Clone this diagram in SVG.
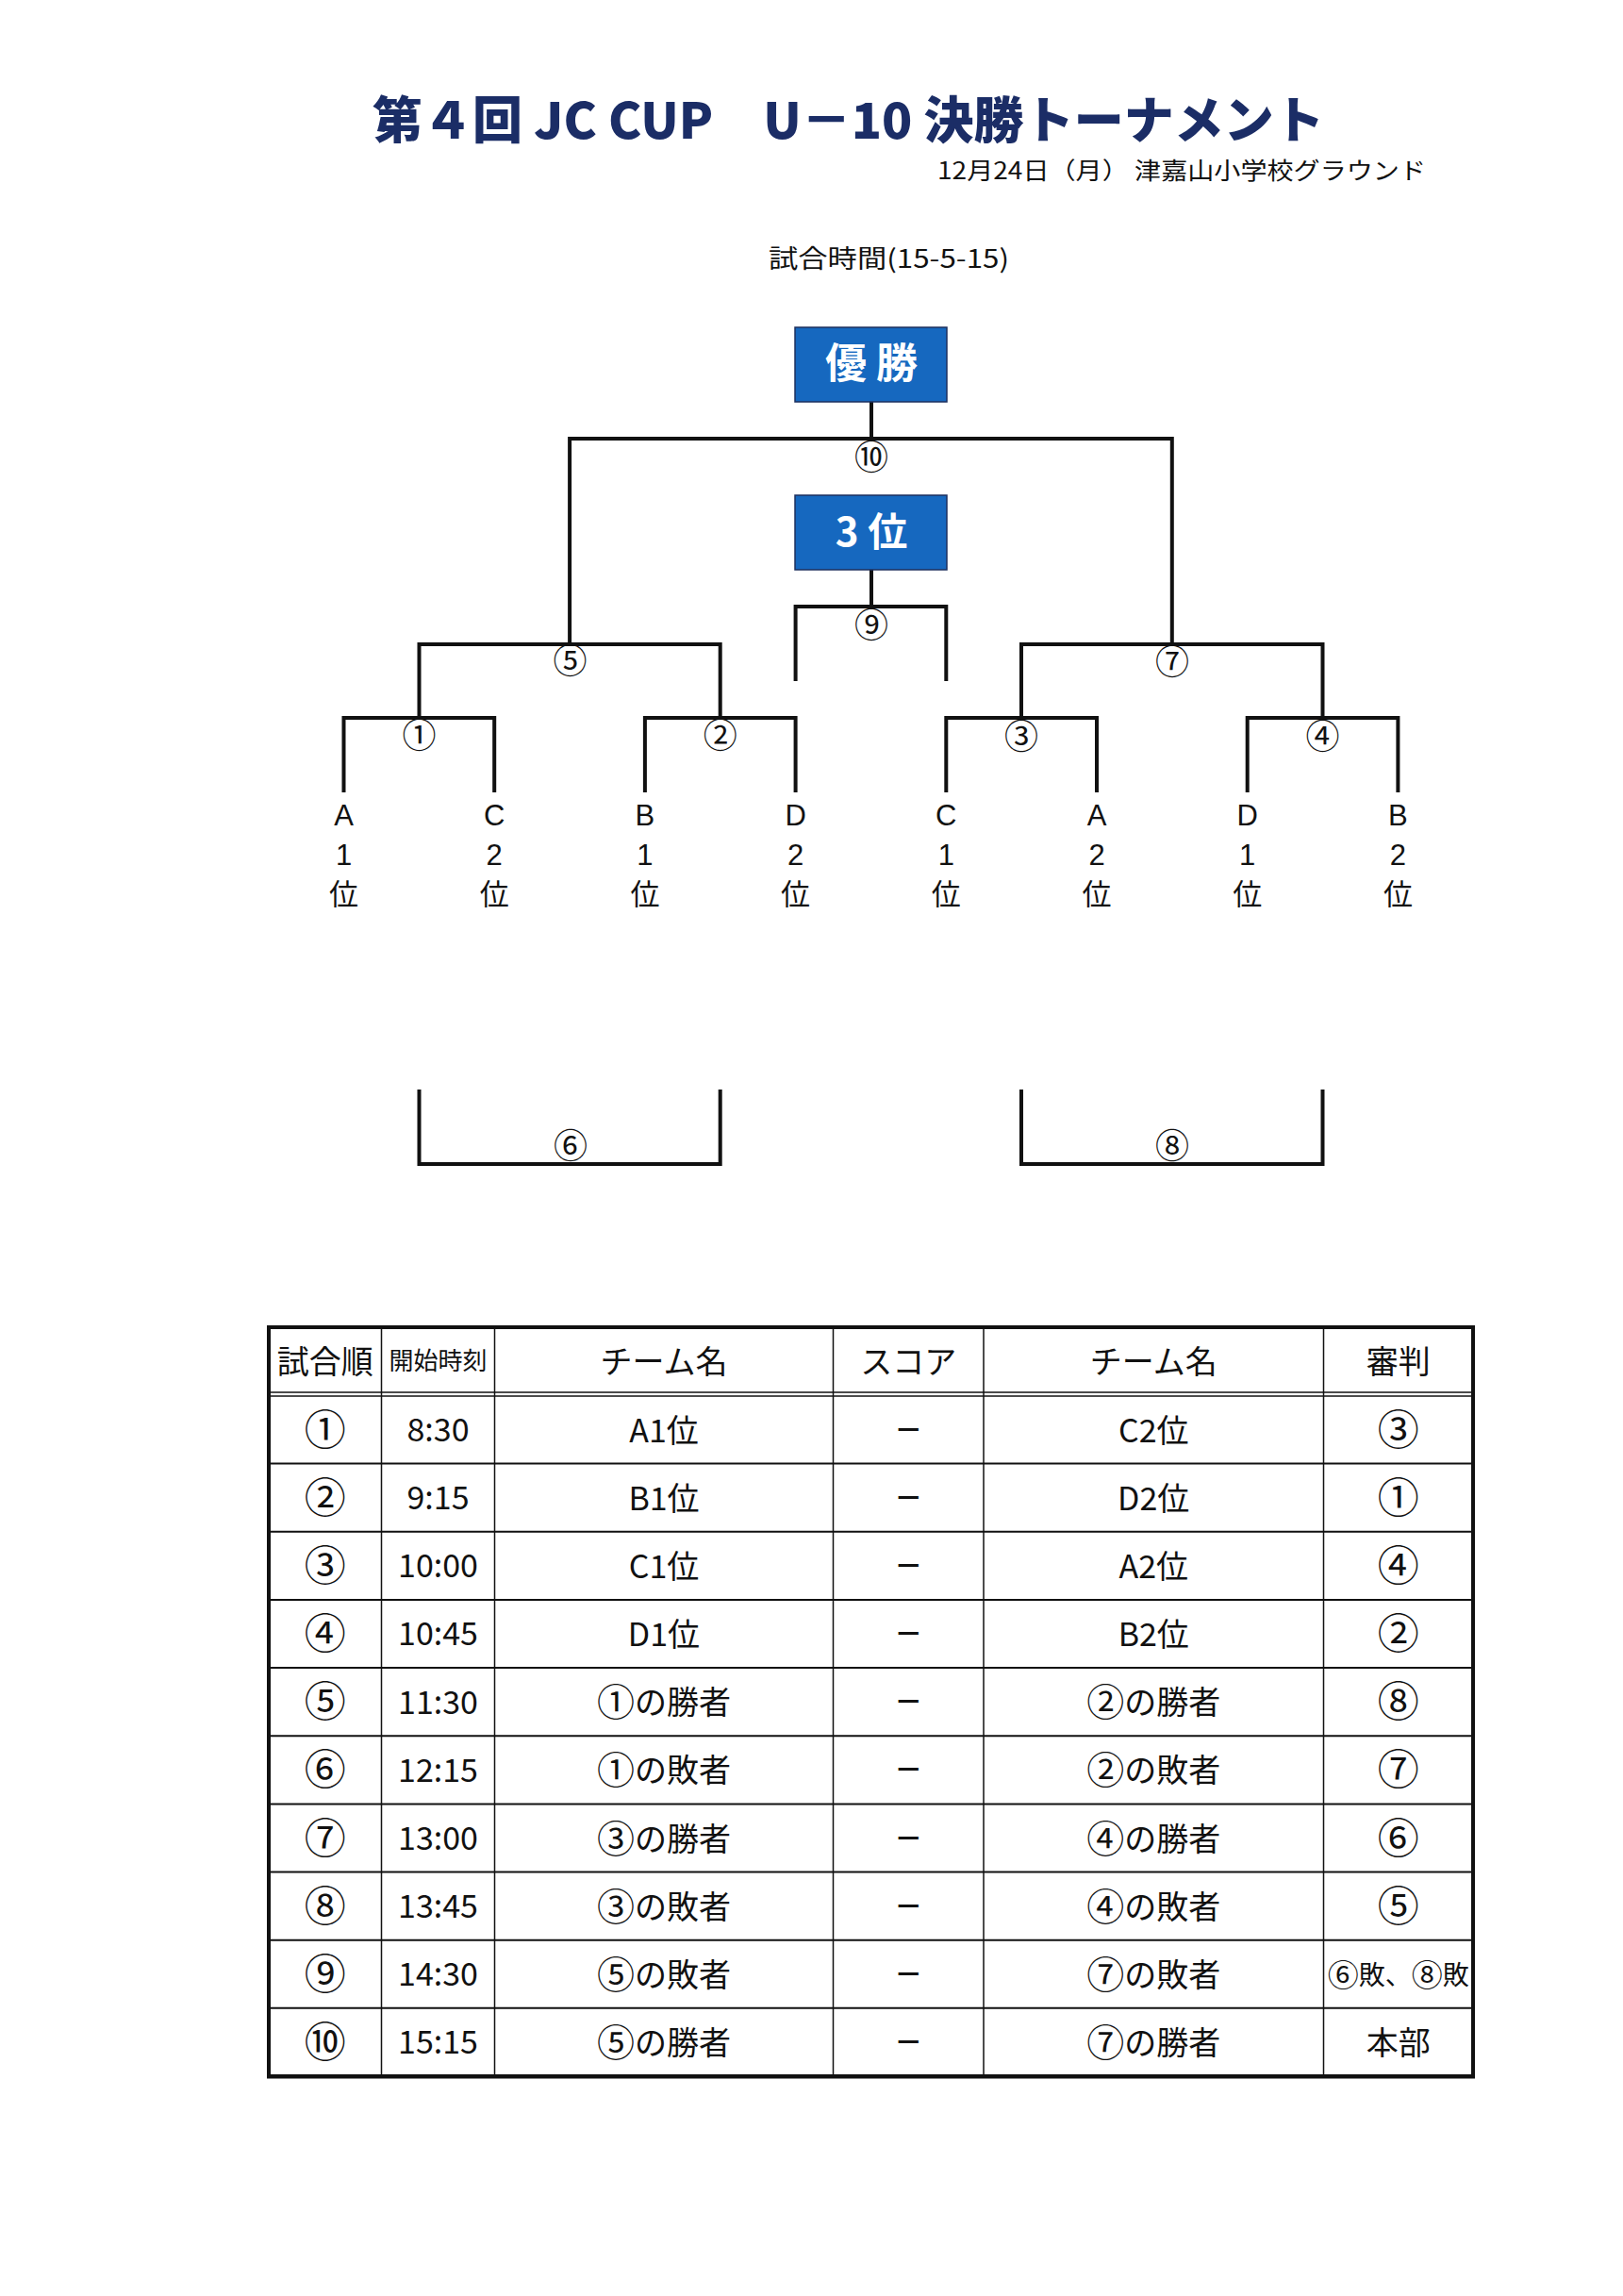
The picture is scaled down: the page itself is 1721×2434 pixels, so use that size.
<svg xmlns="http://www.w3.org/2000/svg" width="1721" height="2434" viewBox="0 0 1721 2434">
<style>
  .jp { font-family: 'Noto Sans CJK JP', 'Noto Sans', sans-serif; fill: #111; }
  .lat { font-family: 'Liberation Sans', Arial, sans-serif; fill: #111; }
  .title { font-family: 'Noto Sans CJK JP', sans-serif; font-weight: 900; font-size: 53px; fill: #1b2d66; }
  .sub { font-size: 25px; }
  .boxrect { fill: #1668bf; stroke: #1c2f5e; stroke-width: 1.5; }
  .boxtxt { font-family: 'Noto Sans CJK JP', sans-serif; font-weight: 700; fill: #fff; text-anchor: middle; }
  .br { fill: none; stroke: #111; stroke-width: 4; stroke-linejoin: miter; }
  .cn { font-size: 36px; text-anchor: middle; }
  .leafL { font-size: 31px; text-anchor: middle; }
  .leafJ { font-size: 31px; text-anchor: middle; }
  .th { font-size: 34px; text-anchor: middle; }
  .td { font-size: 34px; text-anchor: middle; }
  .tc { font-size: 44px; text-anchor: middle; }
  .ci { font-size: 40px; }
  .dash { font-size: 30px; font-weight: 700; text-anchor: middle; }
  .outer { fill: none; stroke: #111; stroke-width: 4; }
  .hl { stroke: #111; stroke-width: 2; }
  .vl { stroke: #111; stroke-width: 1.5; }
  .dl { stroke: #111; stroke-width: 1.4; }
</style>

<g id="title">
  <text class="title" x="395" y="147" textLength="1009" lengthAdjust="spacingAndGlyphs" xml:space="preserve">第４回 JC CUP　U－10 決勝トーナメント</text>
</g>
<g id="subtitle">
  <text class="jp sub" x="994" y="190" textLength="518" lengthAdjust="spacingAndGlyphs" xml:space="preserve">12月24日（月） 津嘉山小学校グラウンド</text>
</g>
<g id="match-time">
  <text class="jp" font-size="27" x="815" y="284" textLength="255" lengthAdjust="spacingAndGlyphs">試合時間(15-5-15)</text>
</g>

<g id="connectors">
  <path class="br" d="M924,426 V465"/>
  <path class="br" d="M604.1,683 V465 H1242.8 V683"/>
  <path class="br" d="M924,604 V643"/>
  <path class="br" d="M843.6,722 V643 H1003.3 V722"/>
  <path class="br" d="M444.5,761 V683 H763.7 V761"/>
  <path class="br" d="M1083,761 V683 H1402.5 V761"/>
  <path class="br" d="M364.5,840 V761 H524.2 V840"/>
  <path class="br" d="M683.9,840 V761 H843.6 V840"/>
  <path class="br" d="M1003.3,840 V761 H1163 V840"/>
  <path class="br" d="M1322.7,840 V761 H1482.4 V840"/>
  <path class="br" d="M444.5,1155 V1234 H763.7 V1155"/>
  <path class="br" d="M1083,1155 V1234 H1402.5 V1155"/>
</g>

<g id="node-champion">
  <rect class="boxrect" x="843" y="347" width="161" height="79"/>
  <text class="boxtxt" font-size="44" x="924" y="401" xml:space="preserve">優 勝</text>
</g>
<g id="node-third">
  <rect class="boxrect" x="843" y="525" width="161" height="79"/>
  <text class="boxtxt" font-size="42" x="924" y="579" xml:space="preserve">3 位</text>
</g>

<g id="match-labels">
  <text class="jp cn" x="924" y="498">⑩</text>
  <text class="jp cn" x="924" y="676">⑨</text>
  <text class="jp cn" x="604.5" y="714">⑤</text>
  <text class="jp cn" x="1243" y="715">⑦</text>
  <text class="jp cn" x="444.5" y="793">①</text>
  <text class="jp cn" x="763.7" y="793">②</text>
  <text class="jp cn" x="1083" y="794">③</text>
  <text class="jp cn" x="1402.5" y="794">④</text>
  <text class="jp cn" x="605" y="1228">⑥</text>
  <text class="jp cn" x="1243" y="1228">⑧</text>
</g>

<g id="team-A1"><text class="lat leafL" x="364.5" y="875">A</text><text class="lat leafL" x="364.5" y="917">1</text><text class="jp leafJ" x="364.5" y="959">位</text></g>
<g id="team-C2"><text class="lat leafL" x="524.2" y="875">C</text><text class="lat leafL" x="524.2" y="917">2</text><text class="jp leafJ" x="524.2" y="959">位</text></g>
<g id="team-B1"><text class="lat leafL" x="683.9" y="875">B</text><text class="lat leafL" x="683.9" y="917">1</text><text class="jp leafJ" x="683.9" y="959">位</text></g>
<g id="team-D2"><text class="lat leafL" x="843.6" y="875">D</text><text class="lat leafL" x="843.6" y="917">2</text><text class="jp leafJ" x="843.6" y="959">位</text></g>
<g id="team-C1"><text class="lat leafL" x="1003.3" y="875">C</text><text class="lat leafL" x="1003.3" y="917">1</text><text class="jp leafJ" x="1003.3" y="959">位</text></g>
<g id="team-A2"><text class="lat leafL" x="1163" y="875">A</text><text class="lat leafL" x="1163" y="917">2</text><text class="jp leafJ" x="1163" y="959">位</text></g>
<g id="team-D1"><text class="lat leafL" x="1322.7" y="875">D</text><text class="lat leafL" x="1322.7" y="917">1</text><text class="jp leafJ" x="1322.7" y="959">位</text></g>
<g id="team-B2"><text class="lat leafL" x="1482.4" y="875">B</text><text class="lat leafL" x="1482.4" y="917">2</text><text class="jp leafJ" x="1482.4" y="959">位</text></g>

<g id="schedule-table">
  <g id="table-lines">
    <line class="dl" x1="285" y1="1476" x2="1562" y2="1476"/>
    <line class="dl" x1="285" y1="1480" x2="1562" y2="1480"/>
    <line class="hl" x1="285" y1="1551.6" x2="1562" y2="1551.6"/>
    <line class="hl" x1="285" y1="1623.8" x2="1562" y2="1623.8"/>
    <line class="hl" x1="285" y1="1695.9" x2="1562" y2="1695.9"/>
    <line class="hl" x1="285" y1="1768.1" x2="1562" y2="1768.1"/>
    <line class="hl" x1="285" y1="1840.2" x2="1562" y2="1840.2"/>
    <line class="hl" x1="285" y1="1912.4" x2="1562" y2="1912.4"/>
    <line class="hl" x1="285" y1="1984.5" x2="1562" y2="1984.5"/>
    <line class="hl" x1="285" y1="2056.7" x2="1562" y2="2056.7"/>
    <line class="hl" x1="285" y1="2128.8" x2="1562" y2="2128.8"/>
    <line class="vl" x1="404.5" y1="1407" x2="404.5" y2="2201"/>
    <line class="vl" x1="524.5" y1="1407" x2="524.5" y2="2201"/>
    <line class="vl" x1="883.5" y1="1407" x2="883.5" y2="2201"/>
    <line class="vl" x1="1043" y1="1407" x2="1043" y2="2201"/>
    <line class="vl" x1="1403.5" y1="1407" x2="1403.5" y2="2201"/>
    <rect class="outer" x="285" y="1407" width="1277" height="794"/>
    <line stroke="#111" stroke-width="2" x1="283" y1="2202.5" x2="1564" y2="2202.5"/>
  </g>
  <g id="table-header">
    <text class="jp th" x="344.75" y="1455.5">試合順</text>
    <text class="jp" font-size="26" text-anchor="middle" x="464.5" y="1452">開始時刻</text>
    <text class="jp th" x="704" y="1455.5">チーム名</text>
    <text class="jp th" x="963.25" y="1455.5">スコア</text>
    <text class="jp th" x="1223.25" y="1455.5">チーム名</text>
    <text class="jp th" x="1482.75" y="1455.5">審判</text>
  </g>
  <g id="row-1">
    <text class="jp tc" x="344.75" y="1531.6">①</text><text class="jp td" x="464.5" y="1528">8:30</text><text class="jp td" x="704" y="1528.5">A1位</text><text class="jp dash" x="963.25" y="1525.6">－</text><text class="jp td" x="1223.25" y="1528.5">C2位</text><text class="jp tc" x="1482.75" y="1531.6">③</text>
  </g>
  <g id="row-2">
    <text class="jp tc" x="344.75" y="1603.7">②</text><text class="jp td" x="464.5" y="1600">9:15</text><text class="jp td" x="704" y="1600.7">B1位</text><text class="jp dash" x="963.25" y="1597.7">－</text><text class="jp td" x="1223.25" y="1600.7">D2位</text><text class="jp tc" x="1482.75" y="1603.7">①</text>
  </g>
  <g id="row-3">
    <text class="jp tc" x="344.75" y="1675.9">③</text><text class="jp td" x="464.5" y="1672.2">10:00</text><text class="jp td" x="704" y="1672.9">C1位</text><text class="jp dash" x="963.25" y="1669.9">－</text><text class="jp td" x="1223.25" y="1672.9">A2位</text><text class="jp tc" x="1482.75" y="1675.9">④</text>
  </g>
  <g id="row-4">
    <text class="jp tc" x="344.75" y="1748">④</text><text class="jp td" x="464.5" y="1744.3">10:45</text><text class="jp td" x="704" y="1745">D1位</text><text class="jp dash" x="963.25" y="1742">－</text><text class="jp td" x="1223.25" y="1745">B2位</text><text class="jp tc" x="1482.75" y="1748">②</text>
  </g>
  <g id="row-5">
    <text class="jp tc" x="344.75" y="1820.2">⑤</text><text class="jp td" x="464.5" y="1816.5">11:30</text><text class="jp td" x="704" y="1817.2"><tspan class="ci" dy="2">①</tspan><tspan dy="-2">の勝者</tspan></text><text class="jp dash" x="963.25" y="1814.2">－</text><text class="jp td" x="1223.25" y="1817.2"><tspan class="ci" dy="2">②</tspan><tspan dy="-2">の勝者</tspan></text><text class="jp tc" x="1482.75" y="1820.2">⑧</text>
  </g>
  <g id="row-6">
    <text class="jp tc" x="344.75" y="1892.3">⑥</text><text class="jp td" x="464.5" y="1888.6">12:15</text><text class="jp td" x="704" y="1889.3"><tspan class="ci" dy="2">①</tspan><tspan dy="-2">の敗者</tspan></text><text class="jp dash" x="963.25" y="1886.3">－</text><text class="jp td" x="1223.25" y="1889.3"><tspan class="ci" dy="2">②</tspan><tspan dy="-2">の敗者</tspan></text><text class="jp tc" x="1482.75" y="1892.3">⑦</text>
  </g>
  <g id="row-7">
    <text class="jp tc" x="344.75" y="1964.5">⑦</text><text class="jp td" x="464.5" y="1960.8">13:00</text><text class="jp td" x="704" y="1961.5"><tspan class="ci" dy="2">③</tspan><tspan dy="-2">の勝者</tspan></text><text class="jp dash" x="963.25" y="1958.5">－</text><text class="jp td" x="1223.25" y="1961.5"><tspan class="ci" dy="2">④</tspan><tspan dy="-2">の勝者</tspan></text><text class="jp tc" x="1482.75" y="1964.5">⑥</text>
  </g>
  <g id="row-8">
    <text class="jp tc" x="344.75" y="2036.6">⑧</text><text class="jp td" x="464.5" y="2032.9">13:45</text><text class="jp td" x="704" y="2033.6"><tspan class="ci" dy="2">③</tspan><tspan dy="-2">の敗者</tspan></text><text class="jp dash" x="963.25" y="2030.6">－</text><text class="jp td" x="1223.25" y="2033.6"><tspan class="ci" dy="2">④</tspan><tspan dy="-2">の敗者</tspan></text><text class="jp tc" x="1482.75" y="2036.6">⑤</text>
  </g>
  <g id="row-9">
    <text class="jp tc" x="344.75" y="2108.8">⑨</text><text class="jp td" x="464.5" y="2105.1">14:30</text><text class="jp td" x="704" y="2105.8"><tspan class="ci" dy="2">⑤</tspan><tspan dy="-2">の敗者</tspan></text><text class="jp dash" x="963.25" y="2102.8">－</text><text class="jp td" x="1223.25" y="2105.8"><tspan class="ci" dy="2">⑦</tspan><tspan dy="-2">の敗者</tspan></text><text class="jp" font-size="28" text-anchor="middle" x="1482.75" y="2103.5"><tspan font-size="33" dy="2">⑥</tspan><tspan dy="-2">敗、</tspan><tspan font-size="33" dy="2">⑧</tspan><tspan dy="-2">敗</tspan></text>
  </g>
  <g id="row-10">
    <text class="jp tc" x="344.75" y="2180.9">⑩</text><text class="jp td" x="464.5" y="2177.2">15:15</text><text class="jp td" x="704" y="2177.9"><tspan class="ci" dy="2">⑤</tspan><tspan dy="-2">の勝者</tspan></text><text class="jp dash" x="963.25" y="2174.9">－</text><text class="jp td" x="1223.25" y="2177.9"><tspan class="ci" dy="2">⑦</tspan><tspan dy="-2">の勝者</tspan></text><text class="jp th" x="1482.75" y="2177.9">本部</text>
  </g>
</g>
</svg>
